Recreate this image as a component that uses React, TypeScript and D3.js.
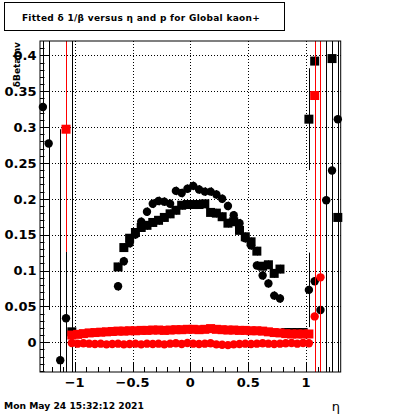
import { useRef, useEffect } from "react";
import * as d3 from "d3";

// central eta bins (black arcs)
const etaCentral = [
  -0.625, -0.575, -0.525, -0.475, -0.425, -0.375, -0.325, -0.275, -0.225, -0.175,
  -0.125, -0.075, -0.025, 0.025, 0.075, 0.125, 0.175, 0.225, 0.275, 0.325,
  0.375, 0.425, 0.475, 0.525, 0.575, 0.625, 0.675, 0.725, 0.775,
];
const blackSquares = [
  0.105, 0.132, 0.145, 0.153, 0.16, 0.163, 0.167, 0.17, 0.174, 0.179,
  0.184, 0.191, 0.192, 0.192, 0.192, 0.193, 0.181, 0.18, 0.175, 0.166,
  0.168, 0.156, 0.147, 0.14, 0.127, 0.106, 0.108, 0.096, 0.102,
];
const blackCircles = [
  0.078, 0.113, 0.138, 0.15, 0.168, 0.182, 0.193, 0.197, 0.196, 0.193,
  0.211, 0.208, 0.214, 0.218, 0.213, 0.21, 0.21, 0.206, 0.2, 0.19,
  0.177, 0.166, 0.145, 0.135, 0.107, 0.093, 0.082, 0.065, 0.061,
];

// red band eta bins
const etaBand = [
  -1.025, -0.975, -0.925, -0.875, -0.825, -0.775, -0.725, -0.675, -0.625, -0.575,
  -0.525, -0.475, -0.425, -0.375, -0.325, -0.275, -0.225, -0.175, -0.125, -0.075,
  -0.025, 0.025, 0.075, 0.125, 0.175, 0.225, 0.275, 0.325, 0.375, 0.425,
  0.475, 0.525, 0.575, 0.625, 0.675, 0.725, 0.775, 0.825, 0.875, 0.925,
  0.975, 1.025,
];
const redSquares = [
  0.01, 0.011, 0.012, 0.013, 0.0135, 0.014, 0.0145, 0.015, 0.0155, 0.0155,
  0.016, 0.016, 0.0165, 0.0165, 0.017, 0.017, 0.0165, 0.017, 0.0175, 0.0175,
  0.018, 0.018, 0.0175, 0.018, 0.019, 0.018, 0.0175, 0.017, 0.017, 0.0165,
  0.0165, 0.016, 0.016, 0.0155, 0.0145, 0.0135, 0.013, 0.012, 0.0115, 0.0115,
  0.0115, 0.0115,
];
const redCircles = [
  -0.001, -0.002, -0.0015, -0.002, -0.0025, -0.002, -0.003, -0.0025, -0.002, -0.003,
  -0.0025, -0.002, -0.003, -0.002, -0.0025, -0.002, -0.003, -0.002, -0.0015, -0.0025,
  -0.001, -0.002, -0.0025, -0.002, -0.0015, -0.003, -0.0035, -0.004, -0.003, -0.0025,
  -0.002, -0.0025, -0.002, -0.0015, -0.002, -0.0025, -0.002, -0.0015, -0.001, -0.002,
  -0.001, -0.0015,
];

// edge bins: [eta, value, error]
const blackSquareEdge = [
  [-1.025, 0.0145, 0.6],
  [0.825, 0.0135, 0.003],
  [0.875, 0.0135, 0.003],
  [0.925, 0.0135, 0.003],
  [0.975, 0.0135, 0.003],
  [1.025, 0.311, 0.071],
  [1.075, 0.392, 0.6],
  [1.225, 0.3955, 0.6],
  [1.275, 0.174, 0.6],
];
const blackCircleEdge = [
  [-1.275, 0.328, 0.6],
  [-1.225, 0.277, 0.232],
  [-1.125, -0.025, 0.322],
  [-1.075, 0.0334, 0.093],
  [1.025, 0.073, 0.052],
  [1.075, 0.085, 0.6],
  [1.125, 0.045, 0.6],
  [1.175, 0.198, 0.6],
  [1.225, 0.2395, 0.6],
  [1.275, 0.311, 0.6],
];
const redSquareEdge = [
  [-1.075, 0.297, 0.171],
  [1.075, 0.344, 0.6],
];
const redCircleEdge = [
  [1.075, 0.036, 0.6],
  [1.125, 0.0905, 0.6],
];

const xMajor = [-1, -0.5, 0, 0.5, 1];
const xLabels = ["\u22121", "\u22120.5", "0", "0.5", "1"];
const yMajor = [0, 0.05, 0.1, 0.15, 0.2, 0.25, 0.3, 0.35, 0.4];
const yLabels = ["0", "0.05", "0.1", "0.15", "0.2", "0.25", "0.3", "0.35", "0.4"];

const title = "Fitted \u03b4 1/\u03b2 versus \u03b7 and p  for Global kaon+";
const dateText = "Mon May 24 15:32:12 2021";

const App = () => {
  const svgRef = useRef(null);

  useEffect(() => {
    const svg = d3.select(svgRef.current);
    svg.selectAll("*").remove();

    const font = "'DejaVu Sans', sans-serif";
    const frame = { left: 40, right: 340.7, top: 41, bottom: 372 };

    const x = d3.scaleLinear().domain([-1.3, 1.3]).range([frame.left, frame.right]);
    const y = d3.scaleLinear().domain([-0.0415, 0.42]).range([frame.bottom, frame.top]);

    svg.append("rect").attr("width", 400).attr("height", 414).attr("fill", "white");

    // title box
    svg
      .append("rect")
      .attr("x", 4.5)
      .attr("y", 2.5)
      .attr("width", 280)
      .attr("height", 28)
      .attr("fill", "white")
      .attr("stroke", "black");
    svg
      .append("text")
      .attr("x", 141)
      .attr("y", 20.5)
      .attr("text-anchor", "middle")
      .attr("font-family", font)
      .attr("font-weight", "bold")
      .attr("font-size", 9)
      .attr("letter-spacing", 0.3)
      .text(title);

    // grid
    const grid = svg.append("g").attr("stroke", "black").attr("stroke-dasharray", "1,2");
    xMajor.forEach((v) => {
      grid
        .append("line")
        .attr("x1", Math.round(x(v)) + 0.5)
        .attr("x2", Math.round(x(v)) + 0.5)
        .attr("y1", frame.top)
        .attr("y2", frame.bottom);
    });
    yMajor.forEach((v) => {
      grid
        .append("line")
        .attr("x1", frame.left)
        .attr("x2", frame.right)
        .attr("y1", Math.round(y(v)) + 0.5)
        .attr("y2", Math.round(y(v)) + 0.5);
    });

    const [yMin, yMax] = y.domain();
    const clampV = (v) => Math.max(yMin, Math.min(yMax, v));

    const drawErr = (pts, color) => {
      const g = svg.append("g").attr("stroke", color).attr("stroke-width", 1);
      pts.forEach(([eta, v, e]) => {
        const px = Math.round(x(eta)) + 0.5;
        g.append("line")
          .attr("x1", px)
          .attr("x2", px)
          .attr("y1", y(clampV(v - e)))
          .attr("y2", y(clampV(v + e)));
      });
    };
    const drawSquares = (pts, color) => {
      const g = svg.append("g").attr("fill", color);
      pts.forEach(([eta, v]) => {
        g.append("rect")
          .attr("x", x(eta) - 4.5)
          .attr("y", y(v) - 4.5)
          .attr("width", 9)
          .attr("height", 9);
      });
    };
    const drawCircles = (pts, color) => {
      const g = svg.append("g").attr("fill", color);
      pts.forEach(([eta, v]) => {
        g.append("circle").attr("cx", x(eta)).attr("cy", y(v)).attr("r", 4.2);
      });
    };

    const bsq = [
      ...etaCentral.map((eta, i) => [eta, blackSquares[i], 0.006]),
      ...blackSquareEdge,
    ];
    const bci = [
      ...etaCentral.map((eta, i) => [eta, blackCircles[i], 0.006]),
      ...blackCircleEdge,
    ];
    const rsq = [...etaBand.map((eta, i) => [eta, redSquares[i], 0.002]), ...redSquareEdge];
    const rci = [...etaBand.map((eta, i) => [eta, redCircles[i], 0.002]), ...redCircleEdge];

    drawErr(bsq, "black");
    drawSquares(bsq, "black");
    drawErr(bci, "black");
    drawCircles(bci, "black");
    drawErr(rsq, "red");
    drawSquares(rsq, "red");
    drawErr(rci, "red");
    drawCircles(rci, "red");

    // frame
    svg
      .append("rect")
      .attr("x", frame.left)
      .attr("y", frame.top)
      .attr("width", frame.right - frame.left)
      .attr("height", frame.bottom - frame.top)
      .attr("fill", "none")
      .attr("stroke", "black");

    // ticks
    const ticks = svg.append("g").attr("stroke", "black");
    d3.range(-12, 13).forEach((k) => {
      const v = k / 10;
      const major = k % 5 === 0;
      const px = Math.round(x(v)) + 0.5;
      ticks
        .append("line")
        .attr("x1", px)
        .attr("x2", px)
        .attr("y1", frame.bottom)
        .attr("y2", frame.bottom - (major ? 10 : 5));
    });
    d3.range(-4, 42).forEach((k) => {
      const v = k / 100;
      const major = k % 5 === 0;
      const py = Math.round(y(v)) + 0.5;
      ticks
        .append("line")
        .attr("x1", frame.left)
        .attr("x2", frame.left + (major ? 9 : 4.5))
        .attr("y1", py)
        .attr("y2", py);
    });

    // tick labels
    xMajor.forEach((v, i) => {
      svg
        .append("text")
        .attr("x", x(v))
        .attr("y", 387)
        .attr("text-anchor", "middle")
        .attr("font-family", font)
        .attr("font-weight", "bold")
        .attr("font-size", 13)
        .text(xLabels[i]);
    });
    yMajor.forEach((v, i) => {
      svg
        .append("text")
        .attr("x", 36.5)
        .attr("y", y(v) + 4.8)
        .attr("text-anchor", "end")
        .attr("font-family", font)
        .attr("font-weight", "bold")
        .attr("font-size", 13)
        .text(yLabels[i]);
    });

    // axis titles
    svg
      .append("text")
      .attr("x", 340)
      .attr("y", 411)
      .attr("text-anchor", "end")
      .attr("font-family", font)
      .attr("font-size", 13)
      .text("\u03b7");
    svg
      .append("text")
      .attr("transform", "translate(20,42) rotate(-90)")
      .attr("text-anchor", "end")
      .attr("font-family", font)
      .attr("font-weight", "bold")
      .attr("font-size", 9)
      .text("\u03b4BetaInv");

    svg
      .append("text")
      .attr("x", 4)
      .attr("y", 409)
      .attr("font-family", font)
      .attr("font-weight", "bold")
      .attr("font-size", 9.2)
      .text(dateText);
  }, []);

  return (
    <svg
      ref={svgRef}
      width={400}
      height={414}
      style={{ position: "absolute", left: 0, top: 0, display: "block" }}
    ></svg>
  );
};

export default App;
